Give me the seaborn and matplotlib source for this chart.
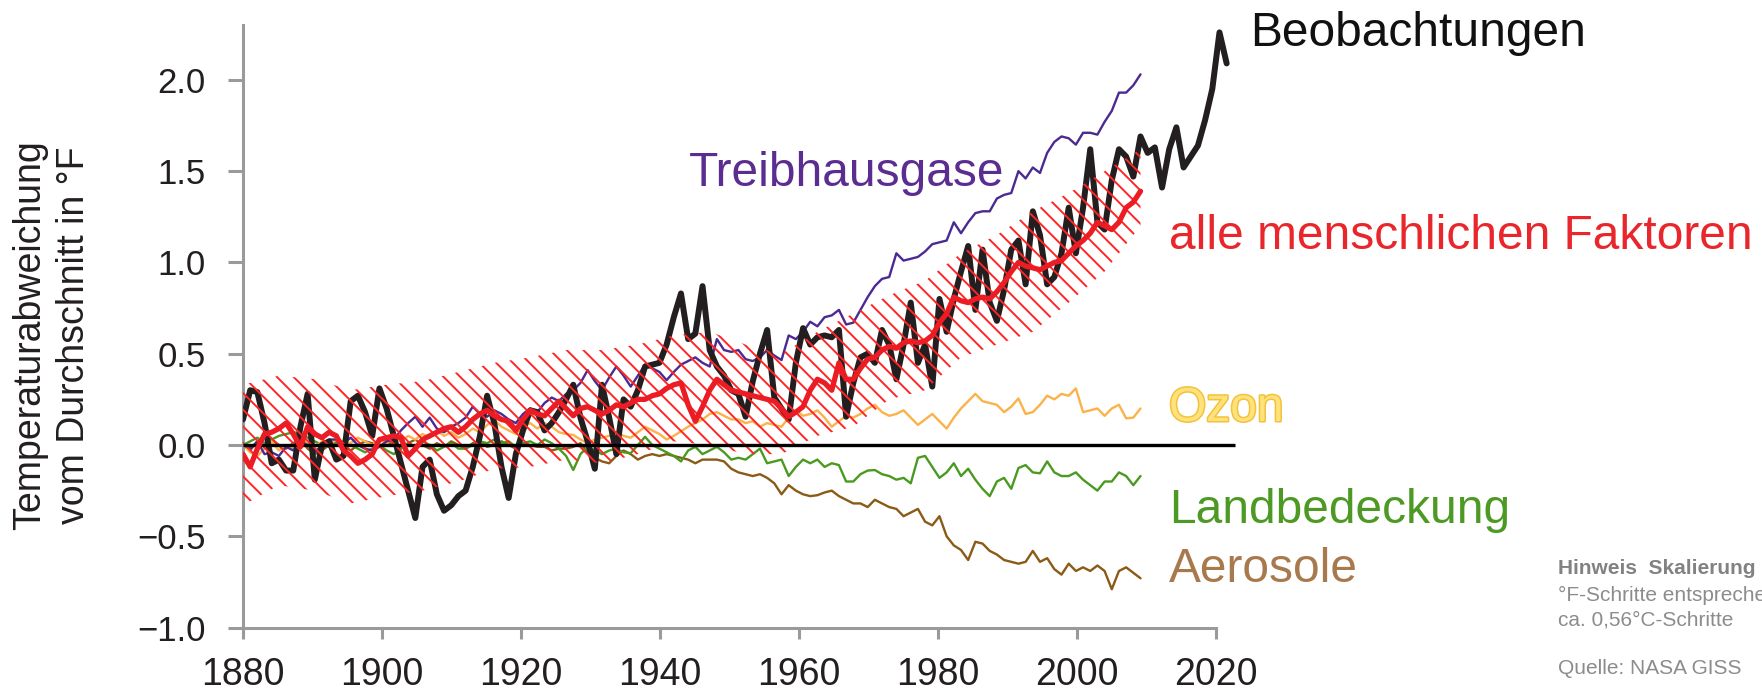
import numpy as np
import matplotlib
matplotlib.use("Agg")
import matplotlib.pyplot as plt
import matplotlib.patheffects as pe
from matplotlib.ticker import FixedLocator, FuncFormatter
import seaborn as sns

# ---------------------------------------------------------------- data (°F)
first_year = 1880
model_last_year = 2005
obs_last_year = 2017

# Observed annual temperature anomaly, 1880-2017
observed = [
    0.14, 0.30, 0.29, 0.12, -0.10, -0.08, -0.14, -0.14, 0.10, 0.28,    # 1880s
    -0.19, 0.00, 0.02, -0.08, -0.06, 0.24, 0.27, 0.18, 0.05, 0.31,     # 1890s
    0.20, 0.05, -0.10, -0.25, -0.40, -0.12, -0.08, -0.27, -0.36, -0.33,  # 1900s
    -0.28, -0.25, -0.12, 0.05, 0.27, 0.12, -0.12, -0.29, -0.05, 0.08,  # 1910s
    0.19, 0.18, 0.08, 0.12, 0.18, 0.25, 0.33, 0.15, 0.02, -0.13,       # 1920s
    0.33, 0.15, -0.05, 0.25, 0.21, 0.30, 0.43, 0.44, 0.45, 0.55,       # 1930s
    0.70, 0.83, 0.58, 0.61, 0.87, 0.52, 0.43, 0.38, 0.30, 0.28,        # 1940s
    0.155, 0.35, 0.50, 0.63, 0.26, 0.20, 0.14, 0.45, 0.64, 0.55,       # 1950s
    0.59, 0.60, 0.59, 0.63, 0.155, 0.34, 0.48, 0.50, 0.45, 0.63,       # 1960s
    0.55, 0.36, 0.55, 0.78, 0.45, 0.55, 0.32, 0.80, 0.62, 0.80,        # 1970s
    0.95, 1.09, 0.74, 1.07, 0.78, 0.68, 0.85, 1.07, 1.12, 0.88,        # 1980s
    1.28, 1.15, 0.88, 0.92, 1.05, 1.30, 1.05, 1.30, 1.62, 1.22,        # 1990s
    1.18, 1.45, 1.62, 1.58, 1.47, 1.69, 1.60, 1.63, 1.41, 1.62,        # 2000s
    1.74, 1.52, 1.58, 1.64, 1.78, 1.95, 2.26, 2.09,                    # 2010s
]

# Model runs, 1880-2005
all_human = [
    -0.05, -0.12, -0.02, 0.06, 0.07, 0.09, 0.12, 0.06, -0.01, 0.10,
    0.06, 0.04, 0.07, 0.05, -0.03, -0.06, -0.10, -0.08, -0.05, 0.03,
    0.04, 0.05, 0.04, -0.06, -0.02, 0.03, 0.05, 0.07, 0.09, 0.10,
    0.07, 0.10, 0.14, 0.17, 0.19, 0.16, 0.14, 0.13, 0.08, 0.14,
    0.19, 0.17, 0.16, 0.20, 0.24, 0.20, 0.16, 0.20, 0.21, 0.19,
    0.17, 0.19, 0.22, 0.21, 0.23, 0.25, 0.25, 0.27, 0.28, 0.31,
    0.33, 0.34, 0.22, 0.13, 0.21, 0.30, 0.36, 0.33, 0.30, 0.29,
    0.28, 0.27, 0.26, 0.25, 0.24, 0.20, 0.155, 0.18, 0.21, 0.30,
    0.36, 0.34, 0.30, 0.45, 0.36, 0.36, 0.42, 0.47, 0.48, 0.52,
    0.54, 0.53, 0.56, 0.57, 0.56, 0.57, 0.60, 0.67, 0.72, 0.81,
    0.79, 0.78, 0.80, 0.81, 0.80, 0.84, 0.89, 0.95, 1.00, 0.98,
    0.97, 0.96, 0.98, 1.00, 1.01, 1.05, 1.09, 1.12, 1.16, 1.22,
    1.20, 1.18, 1.22, 1.30, 1.33, 1.39,
]

greenhouse = [
    0.00, -0.02, 0.02, -0.05, -0.04, -0.06, -0.01, -0.03, 0.02, 0.00,
    -0.04, 0.00, 0.03, 0.03, 0.01, 0.04, 0.00, -0.02, -0.03, -0.01,
    0.02, 0.03, 0.08, 0.12, 0.155, 0.10, 0.15, 0.09, 0.07, 0.10,
    0.12, 0.15, 0.21, 0.17, 0.155, 0.19, 0.17, 0.14, 0.12, 0.17,
    0.20, 0.18, 0.23, 0.26, 0.24, 0.28, 0.30, 0.34, 0.41, 0.35,
    0.30, 0.37, 0.43, 0.38, 0.32, 0.38, 0.44, 0.42, 0.40, 0.355,
    0.40, 0.44, 0.46, 0.48, 0.45, 0.43, 0.58, 0.52, 0.51, 0.52,
    0.47, 0.46, 0.48, 0.52, 0.49, 0.465, 0.60, 0.58, 0.62, 0.675,
    0.65, 0.70, 0.71, 0.74, 0.66, 0.67, 0.74, 0.81, 0.87, 0.91,
    0.92, 1.05, 1.01, 1.02, 1.03, 1.06, 1.10, 1.11, 1.12, 1.22,
    1.16, 1.22, 1.27, 1.28, 1.28, 1.35, 1.37, 1.38, 1.50, 1.46,
    1.52, 1.49, 1.60, 1.66, 1.69, 1.68, 1.645, 1.71, 1.71, 1.70,
    1.77, 1.83, 1.93, 1.93, 1.97, 2.03,
]

ozone = [
    0.00, -0.04, -0.06, -0.02, 0.02, -0.03, 0.00, -0.02, 0.03, 0.01,
    -0.01, 0.02, 0.00, 0.03, 0.02, 0.01, 0.04, 0.02, 0.00, 0.03,
    0.01, 0.04, 0.02, 0.05, 0.03, 0.06, 0.04, 0.08, 0.05, 0.07,
    0.04, 0.06, 0.09, 0.07, 0.11, 0.137, 0.10, 0.08, 0.06, 0.10,
    0.12, 0.09, 0.12, 0.10, 0.07, 0.06, 0.055, 0.03, 0.01, 0.03,
    0.04, 0.05, 0.07, 0.05, 0.04, 0.07, 0.10, 0.08, 0.06, 0.03,
    0.05, 0.075, 0.10, 0.12, 0.14, 0.17, 0.18, 0.16, 0.14, 0.14,
    0.12, 0.13, 0.10, 0.12, 0.11, 0.10, 0.15, 0.19, 0.16, 0.17,
    0.19, 0.15, 0.10, 0.13, 0.16, 0.15, 0.17, 0.20, 0.22, 0.18,
    0.16, 0.17, 0.19, 0.15, 0.11, 0.14, 0.17, 0.13, 0.09, 0.15,
    0.20, 0.24, 0.28, 0.24, 0.23, 0.22, 0.18, 0.21, 0.255, 0.17,
    0.18, 0.22, 0.27, 0.25, 0.28, 0.27, 0.31, 0.18, 0.19, 0.20,
    0.16, 0.20, 0.22, 0.146, 0.15, 0.20,
]

land_use = [
    0.00, 0.02, 0.04, 0.01, 0.03, 0.05, 0.06, 0.07, 0.065, 0.04,
    0.02, 0.00, -0.01, 0.01, 0.02, 0.00, -0.02, -0.04, -0.02, 0.00,
    -0.03, -0.05, -0.02, 0.01, -0.01, 0.02, 0.00, -0.03, -0.01, 0.01,
    -0.02, -0.02, 0.00, 0.02, 0.01, 0.03, 0.01, 0.02, -0.01, 0.01,
    0.02, 0.00, 0.03, 0.01, -0.02, -0.06, -0.137, -0.05, -0.01, -0.03,
    -0.05, -0.03, -0.02, -0.04, -0.045, 0.00, 0.045, 0.00, -0.02, -0.04,
    -0.06, -0.09, -0.03, -0.01, -0.05, -0.03, -0.01, -0.04, -0.08, -0.07,
    -0.08, -0.05, -0.02, -0.10, -0.09, -0.08, -0.17, -0.12, -0.08, -0.10,
    -0.08, -0.12, -0.10, -0.11, -0.20, -0.20, -0.16, -0.14, -0.137, -0.16,
    -0.17, -0.19, -0.18, -0.21, -0.07, -0.06, -0.12, -0.18, -0.15, -0.10,
    -0.17, -0.13, -0.19, -0.24, -0.28, -0.20, -0.18, -0.24, -0.126, -0.11,
    -0.15, -0.155, -0.09, -0.15, -0.17, -0.17, -0.15, -0.19, -0.22, -0.25,
    -0.20, -0.20, -0.15, -0.17, -0.22, -0.17,
]

aerosols = [
    0.00, -0.03, 0.02, 0.05, 0.03, 0.00, -0.02, 0.01, 0.03, -0.02,
    -0.05, -0.03, 0.00, 0.02, -0.01, -0.03, 0.00, 0.02, 0.01, -0.01,
    0.02, 0.00, -0.02, 0.01, 0.03, 0.00, -0.02, 0.01, -0.01, 0.02,
    0.00, -0.02, 0.01, 0.02, -0.01, 0.00, 0.02, 0.00, -0.02, 0.01,
    0.00, -0.01, -0.01, -0.03, -0.02, -0.02, -0.01, 0.01, -0.04, -0.07,
    -0.09, -0.10, -0.06, -0.03, -0.05, -0.08, -0.06, -0.05, -0.06, -0.05,
    -0.06, -0.07, -0.08, -0.10, -0.08, -0.08, -0.08, -0.09, -0.13, -0.15,
    -0.16, -0.17, -0.16, -0.18, -0.21, -0.27, -0.22, -0.25, -0.27, -0.28,
    -0.275, -0.26, -0.25, -0.28, -0.30, -0.32, -0.32, -0.34, -0.30, -0.32,
    -0.34, -0.35, -0.39, -0.37, -0.35, -0.42, -0.44, -0.39, -0.50, -0.55,
    -0.575, -0.63, -0.53, -0.54, -0.58, -0.60, -0.63, -0.64, -0.65, -0.64,
    -0.58, -0.64, -0.62, -0.68, -0.71, -0.65, -0.69, -0.67, -0.69, -0.66,
    -0.69, -0.79, -0.69, -0.67, -0.70, -0.73,
]

# Uncertainty range of the all-human-factors run, every five years
band_years = list(range(1880, 2006, 5))
band_hi = [0.33, 0.38, 0.36, 0.30, 0.33, 0.35, 0.40, 0.45, 0.48, 0.52, 0.52, 0.55, 0.60,
           0.62, 0.55, 0.50, 0.62, 0.72, 0.82, 0.90, 1.05, 1.15, 1.28, 1.38, 1.50, 1.62]
band_lo = [-0.33, -0.22, -0.25, -0.32, -0.28, -0.25, -0.20, -0.13, -0.12, -0.08, -0.10, -0.05,
           0.02, 0.00, -0.05, -0.05, 0.05, 0.10, 0.25, 0.30, 0.48, 0.55, 0.62, 0.78, 0.95, 1.20]

y_ticks = [-1.0, -0.5, 0.0, 0.5, 1.0, 1.5, 2.0]
x_tick_labels = [1880, 1900, 1920, 1940, 1960, 1980, 2000, 2020]

series_labels = ["Beobachtungen", "Treibhausgase", "alle menschlichen Faktoren",
                 "Ozon", "Landbedeckung", "Aerosole"]

# ---------------------------------------------------------------- styling
C_OBS = "#231f20"
C_HUMAN = "#ec1c24"
C_HATCH = "#ff2525"
C_GHG = "#4b2a91"
C_OZONE = "#fbb24a"
C_LAND = "#4a9a20"
C_AERO = "#8a5a16"
C_AXIS = "#9a9a9a"

sns.set_theme(style="white")
plt.rcParams["font.family"] = ["Liberation Sans", "DejaVu Sans"]
plt.rcParams["hatch.linewidth"] = 1.4

W, H = 1762, 693
fig = plt.figure(figsize=(W / 100, H / 100), dpi=100)
fig.patch.set_facecolor("white")
ax = fig.add_axes([243 / W, 0.0944, 1007 / W, 0.8826])
ax.set_facecolor("white")

model_years = np.arange(first_year, model_last_year + 1)
obs_years = np.arange(first_year, obs_last_year + 1)

# hatched uncertainty band
ax.fill_between(band_years, band_lo, band_hi, facecolor="none", edgecolor=C_HATCH,
                hatch="\\\\", linewidth=0, zorder=4)

# individual forcings
for vals, col in [(aerosols, C_AERO), (land_use, C_LAND), (ozone, C_OZONE), (greenhouse, C_GHG)]:
    sns.lineplot(x=model_years, y=vals, color=col, linewidth=1.7, estimator=None,
                 ax=ax, zorder=2)

# observations
sns.lineplot(x=obs_years, y=observed, color=C_OBS, linewidth=4.3, estimator=None,
             ax=ax, zorder=3)

# zero reference
ax.hlines(0, first_year, obs_last_year + 1.2, color="black", linewidth=2.4, zorder=4.5)

# combined human factors
sns.lineplot(x=model_years, y=all_human, color=C_HUMAN, linewidth=3.8, estimator=None,
             ax=ax, zorder=5)

# ---------------------------------------------------------------- axes
ax.set_xlim(first_year, first_year + 1007 / 7.18)
ax.set_ylim(-1.0, 2.35)

# the printed year scale runs about 3 % tighter than the data spacing
x_tick_pos = [first_year + (t - first_year) * 0.968 for t in x_tick_labels]
ax.xaxis.set_major_locator(FixedLocator(x_tick_pos))
ax.set_xticklabels([str(t) for t in x_tick_labels])
ax.yaxis.set_major_locator(FixedLocator(y_ticks))
ax.yaxis.set_major_formatter(FuncFormatter(lambda v, p: f"{v:.1f}".replace("-", "\u2212")))

for side in ["top", "right"]:
    ax.spines[side].set_visible(False)
for side in ["left", "bottom"]:
    ax.spines[side].set_color(C_AXIS)
    ax.spines[side].set_linewidth(2.2)
ax.spines["left"].set_bounds(-1.04, 2.3)
ax.spines["bottom"].set_bounds(first_year, x_tick_pos[-1])

ax.tick_params(axis="y", direction="out", length=11, width=2.2, color=C_AXIS, pad=16,
               labelsize=25, labelcolor=C_OBS, left=True)
ax.tick_params(axis="x", direction="out", length=8, width=2.2, color=C_AXIS, pad=13,
               labelsize=27, labelcolor=C_OBS, bottom=True)
ax.set_xlabel("")
ax.set_ylabel("")
ax.grid(False)

fig.text(52 / W, 1 - 335 / H, "Temperaturabweichung\nvom Durchschnitt in °F",
         rotation=90, ha="center", va="center", fontsize=27, color=C_OBS,
         linespacing=1.3, multialignment="center")

# ---------------------------------------------------------------- direct labels
lab_fs = 34.5
fig.text(1250 / W, 1 - 46 / H, series_labels[0], fontsize=lab_fs, color="#111111", va="baseline")
fig.text(689 / W, 1 - 186 / H, series_labels[1], fontsize=lab_fs, color="#5b2d91", va="baseline")
fig.text(1169 / W, 1 - 249 / H, series_labels[2], fontsize=lab_fs, color="#e8262c", va="baseline")
fig.text(1169 / W, 1 - 421 / H, series_labels[3], fontsize=lab_fs, color="#ffe27a", va="baseline",
         path_effects=[pe.withStroke(linewidth=2.2, foreground="#f2c23e")])
fig.text(1169 / W, 1 - 523 / H, series_labels[4], fontsize=lab_fs, color="#4c9a24", va="baseline")
fig.text(1169 / W, 1 - 582 / H, series_labels[5], fontsize=lab_fs, color="#a8794d", va="baseline")

# ---------------------------------------------------------------- notes
note_x = 1558 / W
note_fs = 15
fig.text(note_x, 1 - 569 / H, "Hinweis  Skalierung °F:", fontsize=note_fs, fontweight="bold",
         color="#828282", va="center")
fig.text(note_x, 1 - 595 / H, "°F-Schritte entsprechen", fontsize=note_fs, color="#8c8c8c", va="center")
fig.text(note_x, 1 - 620 / H, "ca. 0,56°C-Schritte", fontsize=note_fs, color="#8c8c8c", va="center")
fig.text(note_x, 1 - 668 / H, "Quelle: NASA GISS", fontsize=note_fs, color="#8c8c8c", va="center")

fig.savefig("out.png", dpi=100, facecolor="white")
